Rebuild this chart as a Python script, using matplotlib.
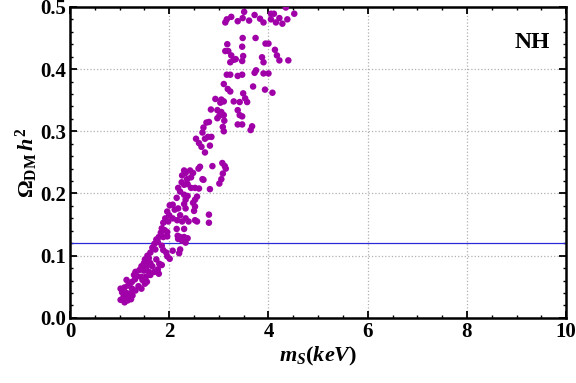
import numpy as np
import matplotlib
matplotlib.use("Agg")
import matplotlib.pyplot as plt
from matplotlib.ticker import MultipleLocator

# sterile neutrino mass (keV) and relic abundance
m_s = [
    3.16, 3.13, 3.25, 3.38, 3.48, 3.51, 3.61, 3.72, 3.83, 3.90, 4.05, 4.11, 4.15, 4.22, 4.28, 4.38, 4.35, 4.52, 4.05, 3.74, 3.48,
    3.17, 3.19, 3.13, 3.25, 3.30, 3.23, 3.47, 3.49, 3.47, 3.94, 4.00, 3.87, 3.90, 4.13, 4.17, 4.22, 4.40, 3.34,
    3.16, 3.23, 3.38, 3.47, 3.72, 3.75, 3.90, 4.00, 3.10, 3.18, 3.23, 3.69, 3.93, 4.08, 2.93, 3.05, 3.10, 3.03, 3.30, 3.42, 3.53, 3.57, 3.49,
    2.84, 2.97, 3.05, 3.01, 2.97, 3.10, 3.11, 3.38, 3.42, 3.47, 3.08, 3.10, 3.38, 3.47, 3.67, 3.64, 2.80, 2.75,
    2.54, 2.60, 2.67, 2.69, 2.72, 2.78, 2.85, 2.65, 2.72, 2.82, 2.62, 2.59, 2.87, 3.07, 3.12, 3.14, 3.08, 3.05, 3.01,
    2.30, 2.33, 2.26, 2.42, 2.48, 2.44, 2.36, 2.25, 2.30, 2.37, 2.44, 2.52, 2.60, 2.67, 2.69, 2.82, 2.18, 2.22, 2.30, 2.37, 2.33, 2.52, 2.56, 2.48,
    2.15, 2.07, 2.01, 2.11, 2.18, 2.30, 2.33, 2.52, 2.50, 1.96, 2.00, 1.92, 1.98, 1.88, 1.85, 1.91, 1.83, 2.07, 2.16, 2.22, 2.26, 2.33, 2.39,
    2.52, 2.56, 2.80, 2.80, 2.15, 2.17, 2.30,
    2.22, 2.30, 2.37, 2.26, 2.33, 2.18, 2.22, 2.20, 1.96, 1.96, 1.88, 1.79, 1.74, 1.77, 1.70, 1.66, 1.72, 1.85, 1.88, 1.94, 2.01, 1.96, 2.07,
    1.62, 1.56, 1.59,
    1.51, 1.57, 1.62, 1.49, 1.44, 1.55, 1.66, 1.74, 1.80, 1.85, 1.77, 1.70, 1.79, 1.40, 1.49, 1.59, 1.62, 1.53, 1.44, 1.36, 1.46, 1.55,
    1.32, 1.29, 1.31, 1.25, 1.21, 1.38, 1.44, 1.51, 1.14, 1.17, 1.10, 1.25, 1.32,
    1.02, 1.05, 1.14, 1.21, 1.08, 1.17, 1.26, 1.02, 1.10, 1.16, 1.23,
]
omega_h2 = [
    0.480, 0.475, 0.484, 0.477, 0.482, 0.492, 0.478, 0.487, 0.481, 0.475, 0.480, 0.489, 0.475, 0.482, 0.473, 0.480, 0.499, 0.489, 0.489, 0.450, 0.450,
    0.440, 0.429, 0.429, 0.422, 0.415, 0.411, 0.436, 0.421, 0.413, 0.441, 0.441, 0.419, 0.411, 0.431, 0.422, 0.414, 0.414, 0.416,
    0.391, 0.391, 0.389, 0.391, 0.394, 0.398, 0.393, 0.393, 0.376, 0.368, 0.364, 0.372, 0.367, 0.362, 0.352, 0.351, 0.348, 0.346, 0.348, 0.347, 0.353, 0.347, 0.361,
    0.335, 0.334, 0.331, 0.325, 0.321, 0.326, 0.317, 0.334, 0.326, 0.324, 0.307, 0.300, 0.311, 0.311, 0.308, 0.302, 0.315, 0.314,
    0.288, 0.281, 0.298, 0.306, 0.288, 0.291, 0.291, 0.275, 0.266, 0.277, 0.243, 0.240, 0.244, 0.249, 0.244, 0.240, 0.232, 0.223, 0.216,
    0.237, 0.233, 0.229, 0.237, 0.233, 0.226, 0.223, 0.218, 0.214, 0.215, 0.209, 0.209, 0.208, 0.223, 0.222, 0.207, 0.209, 0.203, 0.198, 0.196, 0.190, 0.190, 0.195, 0.185,
    0.193, 0.182, 0.181, 0.174, 0.176, 0.183, 0.176, 0.179, 0.172, 0.171, 0.165, 0.160, 0.155, 0.153, 0.144, 0.141, 0.137, 0.160, 0.157, 0.165, 0.155, 0.160, 0.155,
    0.157, 0.155, 0.166, 0.153, 0.143, 0.132, 0.143,
    0.130, 0.130, 0.128, 0.124, 0.121, 0.127, 0.110, 0.104, 0.138, 0.131, 0.130, 0.130, 0.126, 0.122, 0.119, 0.113, 0.110, 0.116, 0.109, 0.105, 0.095, 0.099, 0.108,
    0.105, 0.100, 0.096,
    0.094, 0.091, 0.088, 0.088, 0.083, 0.083, 0.083, 0.094, 0.087, 0.085, 0.078, 0.074, 0.071, 0.077, 0.076, 0.074, 0.069, 0.066, 0.066, 0.067, 0.061, 0.058,
    0.074, 0.069, 0.062, 0.058, 0.055, 0.051, 0.047, 0.055, 0.061, 0.052, 0.049, 0.047, 0.044,
    0.047, 0.041, 0.040, 0.039, 0.034, 0.033, 0.036, 0.029, 0.025, 0.028, 0.030,
]
omega_planck = 0.12

plt.rcParams["font.family"] = "Liberation Serif"
plt.rcParams["mathtext.fontset"] = "custom"
plt.rcParams["mathtext.rm"] = "Liberation Serif:bold"
plt.rcParams["mathtext.it"] = "Liberation Serif:italic:bold"

fig = plt.figure(figsize=(5.76, 3.83), dpi=100)
ax = fig.add_axes([0.1215, 0.170, 0.8615, 0.812])

ax.scatter(m_s, omega_h2, s=22, color="#a000a8", edgecolors="none", zorder=3)
ax.axhline(omega_planck, color="#2a2ad8", linewidth=0.9, zorder=2)

ax.set_xlim(0, 10)
ax.set_ylim(0, 0.5)
ax.xaxis.set_major_locator(MultipleLocator(2))
ax.xaxis.set_minor_locator(MultipleLocator(0.5))
ax.yaxis.set_major_locator(MultipleLocator(0.1))
ax.yaxis.set_minor_locator(MultipleLocator(0.02))
ax.yaxis.set_major_formatter(matplotlib.ticker.FormatStrFormatter("%.1f"))
ax.grid(True, which="major", linestyle=":", color="#b0b0b0", linewidth=0.9)

ax.tick_params(which="both", direction="in", top=True, right=True)
ax.tick_params(which="major", length=5, width=1.3, labelsize=15, pad=3)
ax.tick_params(which="minor", length=2.5, width=1)
for lab in ax.get_xticklabels() + ax.get_yticklabels():
    lab.set_fontweight("bold")
for sp in ax.spines.values():
    sp.set_linewidth(1.8)

ax.set_xlabel(r"$m_S(keV)$", fontsize=16, labelpad=2)
ax.set_ylabel(r"$\Omega_{\mathrm{DM}}\,h^2$", fontsize=16, labelpad=0)
ax.text(0.968, 0.887, "NH", transform=ax.transAxes, ha="right", va="center",
        fontsize=17, fontweight="bold")

fig.savefig("out.png", dpi=100)
